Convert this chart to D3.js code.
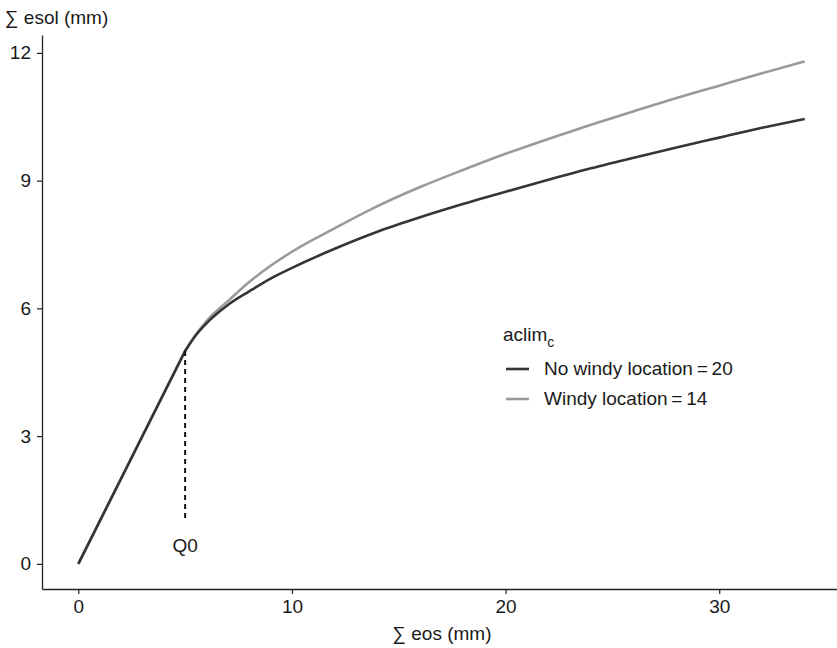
<!DOCTYPE html>
<html><head><meta charset="utf-8">
<script src="https://cdn.jsdelivr.net/npm/d3@7"></script>
<style>
body{margin:0;background:#fff;}
text{font-family:"Liberation Sans",Arial,Helvetica,sans-serif;fill:#1a1a1a;}
</style></head>
<body><svg id="c" width="837" height="648"></svg>
<script>
const eos = [0, 5, 5.5, 6, 7, 8, 9, 10, 12, 14, 16, 18, 20, 22, 24, 26, 28, 30, 32, 34];
const noWindy = [0, 5, 5.37, 5.65, 6.08, 6.40, 6.70, 6.95, 7.40, 7.80, 8.14, 8.45, 8.74, 9.02, 9.29, 9.54, 9.78, 10.01, 10.24, 10.45];
const windy   = [0, 5, 5.38, 5.70, 6.17, 6.62, 7.00, 7.33, 7.88, 8.40, 8.85, 9.25, 9.63, 9.98, 10.31, 10.63, 10.94, 11.23, 11.52, 11.80];
const xTicks = [0, 10, 20, 30];
const yTicks = [0, 3, 6, 9, 12];
const seriesNames = ["No windy location\u2009=\u200920", "Windy location\u2009=\u200914"];
const seriesColors = ["#353535", "#9a9a9a"];
const q0 = 5, q0Low = 1;

const svg = d3.select("#c");
const x = d3.scaleLinear().domain([-1.7, 35.7]).range([42, 841]);
const y = d3.scaleLinear().domain([-0.59, 12.42]).range([589, 35]);

const fs = 19;
// axes
const xa = svg.append("g").attr("transform","translate(0,589)")
  .call(d3.axisBottom(x).tickValues(xTicks).tickSize(5).tickSizeOuter(0).tickPadding(6).tickFormat(d3.format("d")));
const ya = svg.append("g").attr("transform","translate(42,0)")
  .call(d3.axisLeft(y).tickValues(yTicks).tickSize(5).tickSizeOuter(0).tickPadding(6).tickFormat(d3.format("d")));
[xa, ya].forEach(a=>{
  a.select(".domain").attr("stroke","#222").attr("stroke-width",1.3);
  a.selectAll(".tick line").attr("stroke","#222").attr("stroke-width",1.2);
  a.selectAll(".tick text").style("font-size",fs+"px").attr("fill","#1a1a1a");
});

// titles
svg.append("text").attr("x",442).attr("y",640).attr("text-anchor","middle").style("font-size",fs+"px").text("\u2211 eos (mm)");
svg.append("text").attr("x",5).attr("y",24).style("font-size",fs+"px").text("\u2211 esol (mm)");

// lines: linear first stage up to Q0, smooth second stage after
const kink = eos.indexOf(q0);
const lin = d3.line().x(d=>x(d[0])).y(d=>y(d[1]));
const smooth = d3.line().x(d=>x(d[0])).y(d=>y(d[1])).curve(d3.curveMonotoneX);
function drawSeries(vals, color){
  const pts = eos.map((e,i)=>[e, vals[i]]);
  const g = svg.append("g").attr("fill","none").attr("stroke",color).attr("stroke-width",2.6).attr("stroke-linecap","butt");
  g.append("path").attr("d", lin(pts.slice(0, kink+1)) + smooth(pts.slice(kink)).replace(/^M/,"L")).attr("stroke-linejoin","miter");
}
drawSeries(windy, seriesColors[1]);
drawSeries(noWindy, seriesColors[0]);

// Q0 marker
svg.append("line").attr("x1",x(q0)).attr("x2",x(q0)).attr("y1",y(q0)).attr("y2",y(q0Low))
  .attr("stroke","#111").attr("stroke-width",2).attr("stroke-dasharray","5,4");
svg.append("text").attr("x",x(q0)).attr("y",y(q0Low)+31).attr("text-anchor","middle").style("font-size",fs+"px").text("Q0");

// legend
const lg = svg.append("g").attr("transform","translate(503,0)");
const lt = lg.append("text").attr("x",0).attr("y",341).style("font-size",fs+"px");
lt.append("tspan").text("aclim");
lt.append("tspan").attr("dy",6).style("font-size","14px").text("c");
seriesNames.forEach((n,i)=>{
  const yy = 369 + i*30;
  lg.append("line").attr("x1",3).attr("x2",26).attr("y1",yy).attr("y2",yy).attr("stroke",seriesColors[i]).attr("stroke-width",2.6);
  lg.append("text").attr("x",41).attr("y",yy+6).style("font-size",fs+"px").text(n);
});
</script></body></html>
